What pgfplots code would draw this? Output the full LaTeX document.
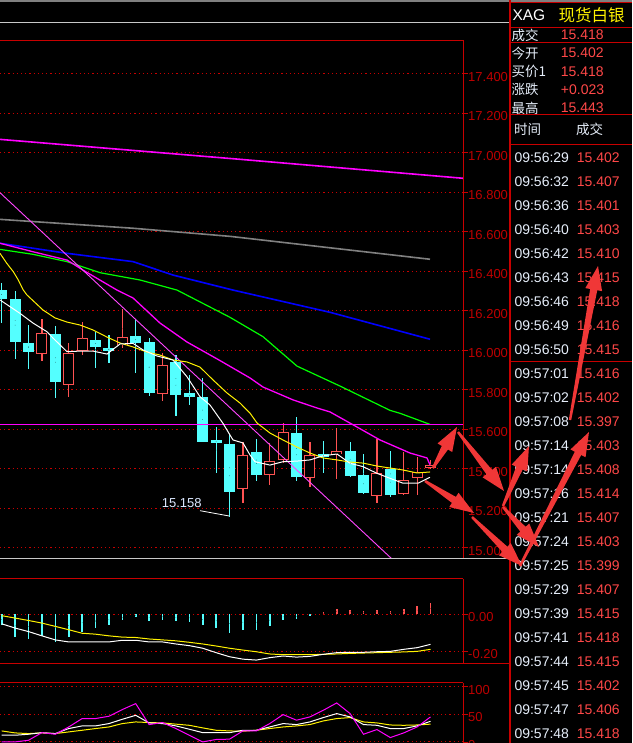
\documentclass[border=0pt]{standalone}
\usepackage{pgfplots}
\pgfplotsset{compat=1.18}
\usepackage{pgfplotstable}
\usepackage{fontspec}
\setmainfont{Liberation Sans}
\newfontfamily\cjk{Noto Sans CJK SC}
\usetikzlibrary{arrows.meta,calc}
\newcommand{\fs}[1]{\fontsize{#1}{#1}\selectfont}
\definecolor{cy}{RGB}{84,255,255}
\definecolor{rd}{RGB}{255,82,82}
\definecolor{gridred}{RGB}{200,0,0}
\definecolor{lblred}{RGB}{190,0,0}
\definecolor{mag}{RGB}{255,0,255}
\definecolor{lmag}{RGB}{255,70,255}
\definecolor{txtw}{RGB}{230,238,250}
\definecolor{valred}{RGB}{255,72,72}
\definecolor{annred}{RGB}{240,55,55}
\definecolor{lgrey}{RGB}{200,200,200}
\definecolor{mgrey}{RGB}{128,128,128}
\definecolor{lblue}{RGB}{220,232,255}

% candles: index, open, high, low, close
\pgfplotstableread{
i o h l c
0 16.305 16.340 16.138 16.260
1 16.260 16.300 15.955 16.040
2 16.037 16.130 15.905 15.990
4 16.083 16.123 15.757 15.841
7 16.050 16.094 15.912 16.018
8 16.012 16.077 15.934 15.998
10 16.072 16.157 15.887 16.035
11 16.042 16.061 15.770 15.785
13 15.941 15.978 15.669 15.775
14 15.782 15.873 15.723 15.762
15 15.762 15.858 15.537 15.537
16 15.544 15.613 15.377 15.532
17 15.526 15.571 15.158 15.284
19 15.484 15.549 15.340 15.370
22 15.581 15.664 15.340 15.360
24 15.476 15.539 15.380 15.461
26 15.490 15.537 15.360 15.364
27 15.369 15.475 15.274 15.279
29 15.399 15.489 15.259 15.266
}\downc
\pgfplotstableread{
i o h l c
3 15.985 16.157 15.947 16.083
5 15.828 16.037 15.765 15.985
6 15.998 16.142 15.978 16.061
9 16.027 16.208 16.010 16.066
12 15.782 15.988 15.745 15.924
18 15.299 15.537 15.228 15.465
20 15.370 15.529 15.316 15.438
21 15.448 15.630 15.428 15.585
23 15.355 15.534 15.309 15.468
25 15.476 15.607 15.350 15.489
28 15.266 15.549 15.228 15.377
30 15.274 15.487 15.270 15.343
31 15.357 15.458 15.267 15.382
32 15.406 15.443 15.400 15.418
}\upc
% MACD histogram
\pgfplotstableread{
i v
0 -0.058
1 -0.122
2 -0.136
3 -0.118
4 -0.149
5 -0.125
6 -0.095
7 -0.076
8 -0.062
9 -0.035
10 -0.018
11 -0.040
12 -0.031
13 -0.036
14 -0.042
15 -0.062
16 -0.073
17 -0.104
18 -0.089
19 -0.089
20 -0.067
21 -0.031
22 -0.025
23 -0.007
}\macdneg
\pgfplotstableread{
i v
24 0.009
25 0.029
26 0.024
27 0.015
28 0.024
29 0.018
30 0.029
31 0.042
32 0.058
}\macdpos

\pgfplotsset{
  panel/.style={
    scale only axis, anchor=north west, width=463pt,
    xmin=-0.127, xmax=34.425,
    axis line style={draw=none},
    xtick=\empty,
    ytick pos=right,
    tick align=outside,
    major tick length=5pt,
    every tick/.style={draw=gridred, line width=0.8pt},
    ymajorgrids,
    major grid style={draw=gridred, line width=0.9pt, dash pattern=on 1.2pt off 3pt},
    yticklabel style={font=\fs{13}, text=lblred, anchor=west, yshift=-3pt, inner xsep=0pt},
    /pgf/number format/assume math mode=true,
  },
  nomark/.style={only marks, mark=*, mark size=0.01pt, mark options={draw=none, fill=none}, forget plot},
  wick/.style={nomark,
    error bars/.cd, y dir=both, y explicit, error mark=none,
    error bar style={#1, line width=1.2pt}},
  body/.style 2 args={nomark,
    error bars/.cd, y dir=both, y explicit, error mark=none,
    error bar style={#1, line width=#2}},
}

\newcommand\fatarrow[2]{%
  \coordinate (faA) at #1; \coordinate (faB) at #2;
  \coordinate (faH) at ($(faB)!24pt!(faA)$);
  \fill[annred] ($(faA)!1.2pt!90:(faB)$) -- ($(faH)!3.6pt!-90:(faA)$) -- ($(faH)!8.5pt!-90:(faA)$) -- (faB)
     -- ($(faH)!8.5pt!90:(faA)$) -- ($(faH)!3.6pt!90:(faA)$) -- ($(faA)!1.2pt!-90:(faB)$) -- cycle;}

\begin{document}
\begin{tikzpicture}
\clip (0pt,0pt) rectangle (632pt,-743pt);
\begin{scope}[x=1pt,y=-1pt]
\fill[black] (0,0) rectangle (632,743);
\end{scope}

% ---------------- main price panel ----------------
\begin{axis}[panel, at={(0pt,-40.5pt)}, height=517.5pt,
  ymin=14.9484, ymax=17.5686,
  ytick={15,15.2,15.4,15.6,15.8,16,16.2,16.4,16.6,16.8,17,17.2,17.4},
  /pgf/number format/fixed, /pgf/number format/fixed zerofill,
  /pgf/number format/precision=3]
% candles
\addplot[wick=cy] table[x=i, y expr=(\thisrow{h}+\thisrow{l})/2, y error expr=(\thisrow{h}-\thisrow{l})/2] {\downc};
\addplot[body={cy}{11pt}] table[x=i, y expr=(\thisrow{o}+\thisrow{c})/2, y error expr=(\thisrow{o}-\thisrow{c})/2] {\downc};
\addplot[wick=rd] table[x=i, y expr=(\thisrow{h}+\thisrow{l})/2, y error expr=(\thisrow{h}-\thisrow{l})/2] {\upc};
\addplot[body={rd}{11pt}] table[x=i, y expr=(\thisrow{o}+\thisrow{c})/2, y error expr=(\thisrow{c}-\thisrow{o})/2+0.0025] {\upc};
\addplot[body={black}{9pt}] table[x=i, y expr=(\thisrow{o}+\thisrow{c})/2, y error expr=(\thisrow{c}-\thisrow{o})/2-0.0025] {\upc};
% moving averages
\addplot[mag, line width=1.6pt] coordinates {(-0.127,17.068) (17.784,16.967) (34.425,16.871)};
\addplot[mgrey, line width=1.6pt] coordinates {(-0.127,16.663) (9.799,16.618) (17.037,16.577) (31.963,16.461)};
\addplot[blue, line width=1.6pt] coordinates {(-0.127,16.542) (4.873,16.491) (9.799,16.449) (12.784,16.381) (17.261,16.305) (24.522,16.192) (31.963,16.056)};
\addplot[green, line width=1.2pt] coordinates {(-0.127,16.511) (2.336,16.486) (4.873,16.449) (7.336,16.393) (10.321,16.356) (13.082,16.305) (17.037,16.167) (19.500,16.069) (22.037,15.920) (25.246,15.819) (28.978,15.696) (29.724,15.681) (31.963,15.625)};
\addplot[mag, line width=1.3pt] coordinates {(-0.127,16.542) (2.336,16.499) (4.873,16.457) (6.067,16.406) (8.604,16.305) (9.799,16.265) (11.813,16.138) (13.828,16.042) (16.291,15.948) (18.530,15.860) (19.500,15.814) (21.739,15.749) (23.530,15.708) (24.500,15.688) (26.216,15.623) (28.231,15.546) (30.470,15.480) (31.739,15.455) (31.963,15.420)};
\addplot[lmag, line width=0.9pt] coordinates {(-0.127,16.798) (30,14.888)};
\addplot[mag, line width=1pt] coordinates {(-0.127,15.623) (34.425,15.623)};
\addplot[yellow, line width=1pt] coordinates {(-0.127,16.491) (0.373,16.441) (0.866,16.398) (1.239,16.356) (1.612,16.305) (1.888,16.280) (3.082,16.204) (3.978,16.164) (4.873,16.143) (5.843,16.128) (6.813,16.103) (7.858,16.067) (8.828,16.037) (9.799,16.017) (10.843,15.991) (11.813,15.976) (12.784,15.951) (13.828,15.941) (14.799,15.915) (15.769,15.850) (16.813,15.784) (17.784,15.733) (18.530,15.682) (19.052,15.632) (20.022,15.581) (20.993,15.546) (22.037,15.510) (23.007,15.480) (23.978,15.455) (25.022,15.445) (25.993,15.434) (26.963,15.429) (28.007,15.414) (28.978,15.404) (29.948,15.394) (30.993,15.379) (31.963,15.384)};
\addplot[white, line width=1pt] coordinates {(-0.127,16.255) (1.366,16.187) (2.336,16.138) (3.381,16.094) (3.828,16.062) (4.873,15.993) (5.843,15.996) (6.813,15.996) (7.858,15.981) (8.828,16.032) (9.799,16.035) (10.545,16.002) (11.590,15.971) (12.784,15.951) (13.828,15.866) (14.799,15.765) (15.545,15.723) (16.515,15.630) (17.037,15.571) (17.261,15.546) (18.007,15.531) (18.530,15.470) (18.903,15.436) (20.022,15.419) (20.993,15.436) (22.037,15.439) (23.007,15.445) (23.978,15.466) (25.022,15.475) (25.993,15.428) (26.963,15.411) (28.007,15.377) (28.978,15.352) (29.948,15.327) (31.067,15.327) (31.963,15.357)};
\addplot[white, line width=0.8pt] coordinates {(14.799,15.188) (16.985,15.161)};
\node[anchor=west, inner sep=0pt, text=lblue, font=\fs{13}] at (axis cs:11.94,15.228) {15.158};
\end{axis}

% ---------------- MACD panel ----------------
\begin{axis}[panel, at={(0pt,-578.5pt)}, height=84.5pt,
  ymin=-0.2649, ymax=0.1919, ytick={-0.2,0},
  /pgf/number format/fixed, /pgf/number format/fixed zerofill,
  /pgf/number format/precision=2]
\addplot[body={cy}{1.6pt}] table[x=i, y expr=\thisrow{v}/2, y error expr=-\thisrow{v}/2] {\macdneg};
\addplot[body={rd}{1.6pt}] table[x=i, y expr=\thisrow{v}/2, y error expr=\thisrow{v}/2] {\macdpos};
\addplot[yellow, line width=1pt] coordinates {(0,-0.009) (1,-0.022) (2,-0.035) (3,-0.049) (4,-0.067) (5,-0.085) (6,-0.104) (7,-0.109) (8,-0.118) (9,-0.125) (10,-0.127) (11,-0.135) (12,-0.140) (13,-0.145) (14,-0.153) (15,-0.162) (16,-0.173) (17,-0.185) (18,-0.195) (19,-0.204) (20,-0.216) (21,-0.220) (22,-0.220) (23,-0.220) (24,-0.218) (25,-0.216) (26,-0.213) (27,-0.211) (28,-0.209) (29,-0.207) (30,-0.205) (31,-0.202) (32,-0.191)};
\addplot[white, line width=1pt] coordinates {(0,-0.053) (1,-0.076) (2,-0.095) (3,-0.118) (4,-0.140) (5,-0.151) (6,-0.151) (7,-0.151) (8,-0.151) (9,-0.142) (10,-0.142) (11,-0.151) (12,-0.151) (13,-0.162) (14,-0.171) (15,-0.185) (16,-0.209) (17,-0.231) (18,-0.244) (19,-0.249) (20,-0.236) (21,-0.227) (22,-0.233) (23,-0.229) (24,-0.218) (25,-0.209) (26,-0.207) (27,-0.207) (28,-0.204) (29,-0.202) (30,-0.191) (31,-0.182) (32,-0.164)};
\end{axis}

% ---------------- KDJ panel ----------------
\begin{axis}[panel, at={(0pt,-682.5pt)}, height=62.5pt,
  ymin=-5.6, ymax=107.6, ytick={0,50,100}]
\addplot[yellow, line width=1pt] coordinates {(0,19.9) (1,16.3) (2,15.1) (3,16.3) (4,15.1) (5,18.1) (6,21.1) (7,24.2) (8,27.1) (9,33.2) (10,36.2) (11,35.1) (12,34.4) (13,32.2) (14,30.1) (15,25.4) (16,21.1) (17,19.9) (18,19.3) (19,21.1) (20,24.2) (21,27.1) (22,29.0) (23,31.4) (24,38.0) (25,42.3) (26,44.1) (27,36.2) (28,34.4) (29,30.7) (30,30.1) (31,30.7) (32,32.2)};
\addplot[white, line width=1pt] coordinates {(0,12.1) (1,12.1) (2,13.9) (3,16.8) (4,15.1) (5,24.2) (6,29.0) (7,29.0) (8,33.2) (9,41.0) (10,48.2) (11,34.4) (12,33.2) (13,29.0) (14,23.0) (15,16.8) (16,16.8) (17,16.8) (18,21.1) (19,21.1) (20,27.1) (21,33.2) (22,31.4) (23,36.2) (24,44.1) (25,51.3) (26,45.3) (27,31.4) (28,30.1) (29,24.2) (30,24.2) (31,29.0) (32,37.4)};
\addplot[mag, line width=1pt] coordinates {(0,0) (1,0) (2,3) (3,16.8) (4,13.9) (5,27.1) (6,42.3) (7,42.3) (8,46.5) (9,58.6) (10,69.4) (11,31.4) (12,35.1) (13,24.2) (14,12.1) (15,0) (16,4.4) (17,5) (18,19.9) (19,19.9) (20,33.2) (21,49.5) (22,39.3) (23,45.3) (24,57.3) (25,70.6) (26,51.3) (27,13.9) (28,22.4) (29,7.9) (30,16.3) (31,27.1) (32,45.3)};
\end{axis}

% ---------------- frames, side panel, annotations ----------------
\begin{scope}[x=1pt,y=-1pt]
\draw[mgrey, line width=1.5pt] (0,0.8) -- (632,0.8);
\draw[lgrey, line width=1pt] (0,22.3) -- (509,22.3);
\draw[gridred, line width=1pt] (0,40.5) -- (463,40.5) (463,40.5) -- (463,558);
\draw[lgrey, line width=1pt] (0,558.5) -- (509,558.5);
\draw[gridred, line width=1pt] (0,578.5) -- (463,578.5) (463,578.5) -- (463,663);
\draw[gridred, line width=1pt] (0,663) -- (509,663);
\draw[gridred, line width=1pt] (0,682.5) -- (463,682.5) (463,682.5) -- (463,743);
\draw[gridred, line width=1.5pt] (510,0) -- (510,743);
\draw[gridred, line width=1pt] (510,2.7) -- (632,2.7) (510,27.7) -- (632,27.7) (510,42.8) -- (632,42.8) (510,114.8) -- (632,114.8) (510,144.5) -- (632,144.5) (510,361) -- (632,361);

\node[anchor=base west, inner sep=0pt, text=white, font=\fs{15.5}] at (512.3,20.9) {XAG};
\node[anchor=base west, inner sep=0pt, text=yellow, font=\cjk\fs{16.5}] at (558.3,21.5) {现货白银};
\foreach \lab/\val/\yy in {成交/15.418/40.3, 今开/15.402/58.5, 买价1/15.418/76.7, 涨跌/+0.023/94.9, 最高/15.443/113.1} {
  \node[anchor=base west, inner sep=0pt, text=txtw, font=\cjk\fs{13.5}] at (511.5,\yy) {\lab};
  \node[anchor=base west, inner sep=0pt, text=valred, font=\fs{14}] at (560.7,\yy-0.5) {\val};
}
\node[anchor=base west, inner sep=0pt, text=txtw, font=\cjk\fs{13.5}] at (514,135) {时间};
\node[anchor=base west, inner sep=0pt, text=txtw, font=\cjk\fs{13.5}] at (576,135) {成交};
\foreach \t/\v [count=\k from 0] in {09:56:29/15.402, 09:56:32/15.407, 09:56:36/15.401, 09:56:40/15.403, 09:56:42/15.410, 09:56:43/15.415, 09:56:46/15.418, 09:56:49/15.416, 09:56:50/15.415, 09:57:01/15.416, 09:57:02/15.402, 09:57:08/15.397, 09:57:14/15.403, 09:57:14/15.408, 09:57:16/15.414, 09:57:21/15.407, 09:57:24/15.403, 09:57:25/15.399, 09:57:29/15.407, 09:57:39/15.415, 09:57:41/15.418, 09:57:44/15.415, 09:57:45/15.402, 09:57:47/15.406, 09:57:48/15.418} {
  \node[anchor=base west, inner sep=0pt, text=txtw, font=\fs{14}] at (514.3,{162.3+24*\k}) {\t};
  \node[anchor=base west, inner sep=0pt, text=valred, font=\fs{14}] at (576.7,{162.3+24*\k}) {\v};
}

\fatarrow{(433,468)}{(457,427)}
\fatarrow{(458,432)}{(504,491)}
\fatarrow{(503,506)}{(529,446)}
\fatarrow{(425,481)}{(474,513)}
\fatarrow{(472,517)}{(522,566)}
\fatarrow{(503,507)}{(539,547)}
\fatarrow{(520,566)}{(589,432)}
\fatarrow{(570,420)}{(598,266)}
\end{scope}
\end{tikzpicture}
\end{document}
